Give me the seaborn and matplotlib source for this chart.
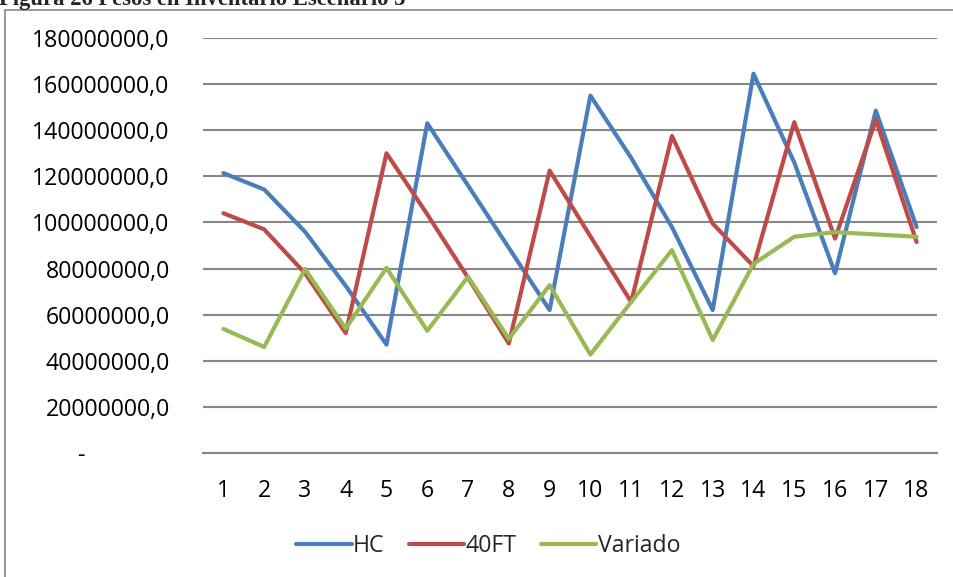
import numpy as np
import pandas as pd
import matplotlib
matplotlib.use("Agg")
import matplotlib.pyplot as plt
from matplotlib.ticker import FuncFormatter, MultipleLocator
from matplotlib.patches import Rectangle
from matplotlib.lines import Line2D
import seaborn as sns

# Inventory weight per period (millions), three container scenarios
periods = list(range(1, 19))
hc = [121.4, 114.3, 96.0, 72.5, 47.0, 143.0, 116.0, 89.0, 62.0,
      155.0, 128.0, 98.0, 62.0, 164.5, 126.0, 78.0, 148.5, 98.0]
ft40 = [104.0, 97.0, 78.0, 52.0, 130.0, 103.5, 76.0, 47.5, 122.5,
        94.0, 65.5, 137.5, 99.5, 81.0, 143.5, 93.0, 144.5, 91.5]
variado = [53.8, 46.0, 79.8, 54.0, 80.3, 53.0, 76.5, 49.5, 72.8,
           42.7, 65.5, 88.0, 49.0, 82.0, 93.8, 95.8, 94.8, 93.8]
series_names = ["HC", "40FT", "Variado"]
colors = ["#4A7EBB", "#BE4B48", "#98B954"]

frames = []
for name, vals in zip(series_names, [hc, ft40, variado]):
    frames.append(pd.DataFrame({"periodo": periods,
                                "peso": np.array(vals) * 1e6,
                                "serie": name}))
df = pd.concat(frames, ignore_index=True)

sns.set_style("white")
plt.rcParams["font.family"] = ["Open Sans", "DejaVu Sans"]

W, H = 954, 577
fig = plt.figure(figsize=(W / 100, H / 100), dpi=100)
ax = fig.add_axes([203 / W, 1 - 453 / H, (937 - 203) / W, (453 - 38) / H])

sns.lineplot(data=df, x="periodo", y="peso", hue="serie",
             palette=dict(zip(series_names, colors)), linewidth=3.0,
             legend=False, ax=ax, solid_joinstyle="round",
             solid_capstyle="round", zorder=3)

ax.set_xlim(0.5, 18.5)
ax.set_ylim(0, 180e6)
ax.yaxis.set_major_locator(MultipleLocator(20e6))
ax.set_xticks(periods)
ax.set_xticklabels([str(p) for p in periods])


def fmt(v, pos):
    if abs(v) < 1:
        return "-" + " " * 14
    return f"{int(round(v))},0"


ax.yaxis.set_major_formatter(FuncFormatter(fmt))
ax.grid(axis="y", color="#878787", linewidth=1.5)
ax.grid(axis="x", visible=False)
for side in ["top", "right", "left"]:
    ax.spines[side].set_visible(False)
ax.spines["bottom"].set_color("#878787")
ax.spines["bottom"].set_linewidth(1.5)
ax.tick_params(axis="y", length=0, pad=24, labelsize=16.7, colors="#000000")
ax.tick_params(axis="x", length=0, pad=19, labelsize=16.7, colors="#000000")
ax.set_xlabel("")
ax.set_ylabel("")

handles = [Line2D([], [], color=c, lw=3.0, solid_capstyle="round")
           for c in colors]
fig.legend(handles, series_names, loc="center", ncol=3,
           bbox_to_anchor=(488 / W, 1 - 546 / H), frameon=False,
           fontsize=16.7, handlelength=2.4, handletextpad=0.05,
           columnspacing=1.05)

# chart frame
fig.patches.append(Rectangle((5.5 / W, -0.05), 1.2, 1 - 9.5 / H + 0.05,
                             transform=fig.transFigure, fill=False,
                             edgecolor="#878787", linewidth=1.2,
                             clip_on=False))

fig.text(-1 / W, 1 - 5 / H, "Figura 26 Pesos en Inventario Escenario 3",
         family="Liberation Serif", weight="bold", fontsize=16.3,
         ha="left", va="baseline")

fig.savefig("out.png", dpi=100)
